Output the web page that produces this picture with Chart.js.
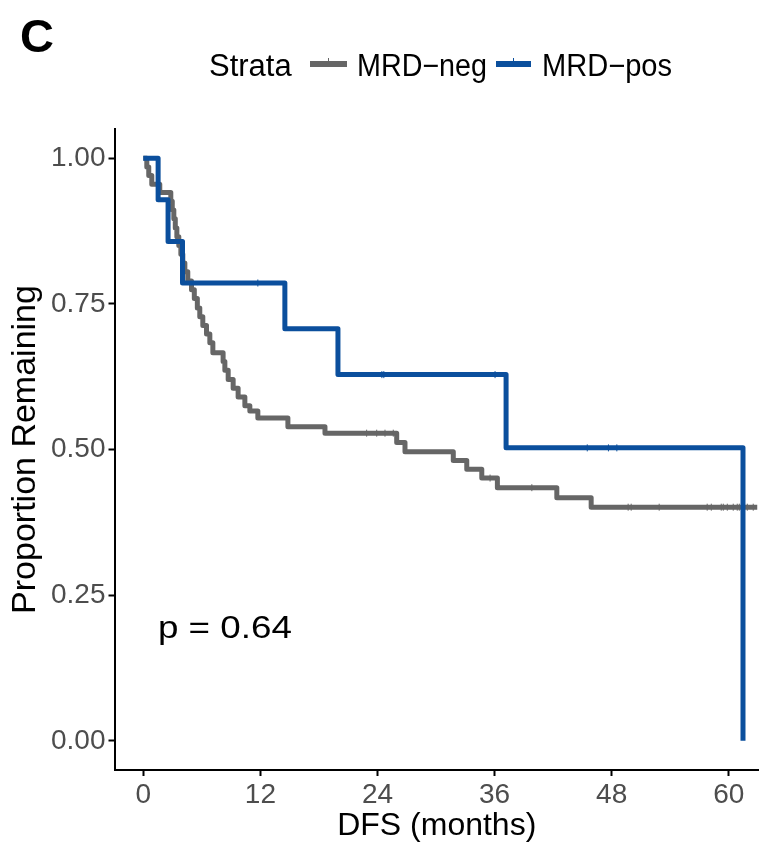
<!DOCTYPE html>
<html>
<head>
<meta charset="utf-8">
<script src="https://cdn.jsdelivr.net/npm/chart.js@4.4.1/dist/chart.umd.min.js"></script>
<style>
html, body { margin: 0; padding: 0; background: #fff; }
#wrap { position: relative; width: 759px; height: 845px; }
</style>
</head>
<body>
<div id="wrap"><canvas id="km" width="759" height="845"></canvas></div>
<script>
const FONT = "'Liberation Sans', Arial, Helvetica, sans-serif";

// MRD-neg : step times (months) and survival after each step
const negTime = [0, 0.36, 0.56, 0.87, 1.69, 2.82, 2.97, 3.13, 3.28, 3.44, 3.64, 3.85, 4.05, 4.26, 4.56, 4.94,
  5.23, 5.54, 5.79, 6.10, 6.48, 6.82, 7.13, 8.18, 8.36, 8.70, 9.21, 9.72, 10.41, 10.92, 11.74, 14.82,
  18.62, 25.97, 26.82, 31.77, 33.15, 34.69, 36.29, 42.38, 45.90, 62.92];
const negSurv = [1, 0.985, 0.970, 0.955, 0.941, 0.926, 0.911, 0.896, 0.880, 0.865, 0.850, 0.835, 0.820, 0.805, 0.789, 0.774,
  0.759, 0.743, 0.728, 0.713, 0.698, 0.683, 0.666, 0.651, 0.636, 0.620, 0.605, 0.590, 0.575, 0.566, 0.554, 0.539,
  0.528, 0.512, 0.496, 0.481, 0.466, 0.451, 0.4345, 0.417, 0.401, 0.401];
const negCensorTime = [22.89, 23.92, 24.77, 25.62, 35.54, 39.82, 49.69, 50.0, 52.87, 57.79, 58.21, 59.23, 59.44,
  59.85, 60.46, 60.87, 61.08, 61.9, 62.51];
const negCensorSurv = [0.528, 0.528, 0.528, 0.528, 0.451, 0.4345, 0.401, 0.401, 0.401, 0.401, 0.401, 0.401, 0.401,
  0.401, 0.401, 0.401, 0.401, 0.401, 0.401];

// MRD-pos
const posTime = [0, 1.52, 2.54, 4.02, 14.51, 19.95, 37.18, 61.46];
const posSurv = [1, 0.9286, 0.8571, 0.7857, 0.7071, 0.6285, 0.5028, 0];
const posCensorTime = [11.74, 24.45, 24.65, 36.05, 45.5, 47.67, 48.53];
const posCensorSurv = [0.7857, 0.6285, 0.6285, 0.6285, 0.5028, 0.5028, 0.5028];

const xTicks = [0, 12, 24, 36, 48, 60];
const yTicks = [0, 0.25, 0.5, 0.75, 1];
const strata = ['MRD\u2212neg', 'MRD\u2212pos'];
const colors = ['#666666', '#0b4f9d'];
const pText = 'p = 0.64';

function pts(t, s) { return t.map((v, i) => ({ x: v, y: s[i] })); }

const annot = {
  id: 'annot',
  afterDraw(chart) {
    const { ctx, scales: { x, y } } = chart;
    ctx.save();
    ctx.fillStyle = '#000';
    ctx.textBaseline = 'alphabetic';
    ctx.textAlign = 'left';
    ctx.font = 'bold 47px ' + FONT;
    ctx.fillText('C', 20, 52);

    // p value, a bit wider than the font as in the original
    ctx.font = '31px ' + FONT;
    const w = ctx.measureText(pText).width;
    const px = x.getPixelForValue(1.5), py = y.getPixelForValue(0.176);
    ctx.save();
    ctx.translate(px, py);
    ctx.scale(134 / w, 1);
    ctx.fillText(pText, 0, 0);
    ctx.restore();

    // legend
    ctx.font = '31px ' + FONT;
    ctx.fillText('Strata', 209, 76);
    const keys = [[310, 347, 357], [496, 531, 542]];
    keys.forEach((k, i) => {
      ctx.strokeStyle = colors[i];
      ctx.lineWidth = 6;
      ctx.beginPath(); ctx.moveTo(k[0], 64); ctx.lineTo(k[1], 64); ctx.stroke();
      ctx.lineWidth = 1;
      ctx.beginPath(); ctx.moveTo((k[0] + k[1]) / 2, 58); ctx.lineTo((k[0] + k[1]) / 2, 64); ctx.stroke();
      ctx.fillStyle = '#000';
      ctx.fillText(strata[i], k[2], 76, 130);
    });
    ctx.restore();
  }
};

const lineDs = (label, t, s, c, order) => ({
  type: 'line', label: label, data: pts(t, s), stepped: 'before',
  borderColor: c, borderWidth: 5, pointRadius: 0, fill: false,
  borderCapStyle: 'butt', borderJoinStyle: 'round', order: order
});
const censorDs = (t, s, c, order) => ({
  type: 'scatter', data: pts(t, s), pointStyle: 'line', rotation: 90,
  pointRadius: 3.5, borderColor: c, borderWidth: 1, order: order
});

new Chart(document.getElementById('km'), {
  type: 'line',
  data: {
    datasets: [
      lineDs(strata[0], negTime, negSurv, colors[0], 3),
      censorDs(negCensorTime, negCensorSurv, colors[0], 2),
      lineDs(strata[1], posTime, posSurv, colors[1], 1),
      censorDs(posCensorTime, posCensorSurv, colors[1], 0)
    ]
  },
  options: {
    responsive: false,
    animation: false,
    devicePixelRatio: 1,
    layout: { autoPadding: false, padding: { top: 129, left: 0, right: 0, bottom: 0 } },
    plugins: { legend: { display: false }, tooltip: { enabled: false } },
    scales: {
      x: {
        type: 'linear', min: -2.95, max: 63.1,
        afterBuildTicks: s => { s.ticks = xTicks.map(v => ({ value: v })); },
        afterFit: s => { s.height = 75; s.paddingLeft = 0; s.paddingRight = 0; },
        border: { display: true, color: '#000', width: 2 },
        grid: { display: true, drawOnChartArea: false, drawTicks: true, tickLength: 6, tickColor: '#000', tickWidth: 2 },
        ticks: { color: '#4d4d4d', font: { size: 28, family: FONT }, padding: 2, maxRotation: 0 },
        title: { display: true, text: 'DFS (months)', color: '#000', font: { size: 32, family: FONT }, padding: { top: 0, bottom: 0 } }
      },
      y: {
        type: 'linear', min: -0.05, max: 1.05,
        afterBuildTicks: s => { s.ticks = yTicks.map(v => ({ value: v })); },
        afterFit: s => { s.width = 114.5; s.paddingTop = 0; s.paddingBottom = 0; },
        border: { display: true, color: '#000', width: 2 },
        grid: { display: true, drawOnChartArea: false, drawTicks: true, tickLength: 6, tickColor: '#000', tickWidth: 2 },
        ticks: { color: '#4d4d4d', font: { size: 28, family: FONT }, padding: 3, callback: v => v.toFixed(2) },
        title: { display: true, text: 'Proportion Remaining', color: '#000', font: { size: 34, family: FONT }, padding: { top: 5, bottom: 0 } }
      }
    }
  },
  plugins: [annot]
});
</script>
</body>
</html>
